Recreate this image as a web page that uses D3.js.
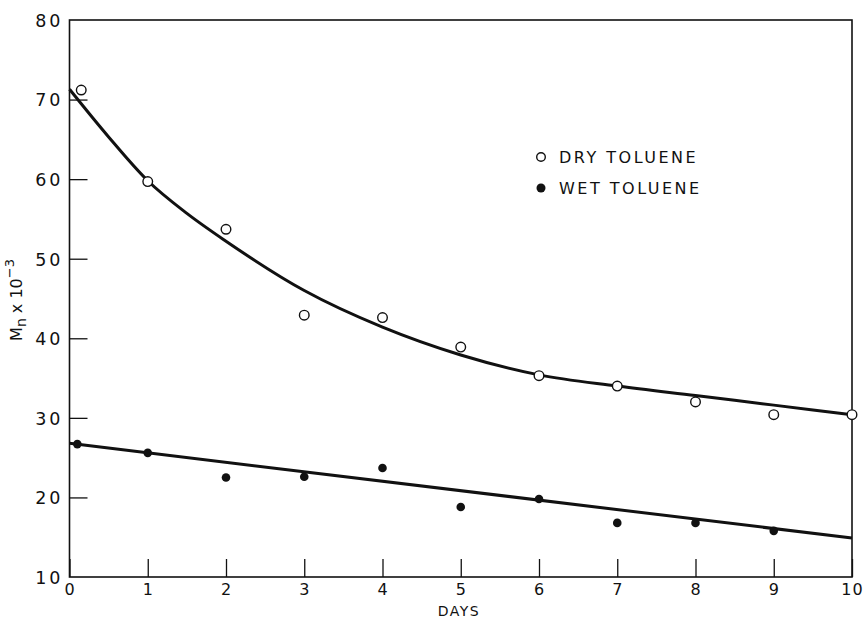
<!DOCTYPE html>
<html><head><meta charset="utf-8">
<script src="https://cdn.jsdelivr.net/npm/d3@7"></script>
<style>
body{margin:0;background:#fff;}
text{font-family:"DejaVu Sans",sans-serif;fill:#111;}
</style></head>
<body><svg id="c" width="866" height="620"></svg>
<script>
// data
const dryDays = [0.15, 1, 2, 3, 4, 5, 6, 7, 8, 9, 10];
const dryMn   = [71.2, 59.7, 53.7, 42.9, 42.6, 38.9, 35.3, 34.0, 32.0, 30.4, 30.4];
const wetDays = [0.1, 1, 2, 3, 4, 5, 6, 7, 8, 9];
const wetMn   = [26.7, 25.6, 22.5, 22.6, 23.7, 18.8, 19.8, 16.8, 16.8, 15.8];
// hand-drawn fit curves
const dryFitDays = [0, 0.5, 1, 1.5, 2, 3, 4, 5, 6, 7, 8, 9, 10];
const dryFitMn   = [71.3, 65.3, 59.8, 55.7, 52.2, 46.0, 41.4, 37.9, 35.4, 34.0, 32.8, 31.6, 30.4];
const wetFitDays = [0, 10];
const wetFitMn   = [26.8, 14.9];
const xTicks = [0,1,2,3,4,5,6,7,8,9,10];
const yTicks = [10,20,30,40,50,60,70,80];
const legendLabels = ["DRY TOLUENE", "WET TOLUENE"];

const svg = d3.select("#c");
const L = 69.5, R = 852, T = 20, B = 577;
const x = d3.scaleLinear().domain([0,10]).range([L,R]);
const y = d3.scaleLinear().domain([10,80]).range([B,T]);

// frame
svg.append("rect").attr("x",L).attr("y",T).attr("width",R-L).attr("height",B-T)
  .attr("fill","none").attr("stroke","#111").attr("stroke-width",1.6);

// axes with inward ticks
const xAxis = svg.append("g").attr("transform",`translate(0,${B})`)
  .call(d3.axisBottom(x).tickValues(xTicks).tickSize(-18).tickPadding(0).tickFormat(d3.format("d")));
xAxis.select(".domain").remove();
xAxis.selectAll("line").attr("stroke","#111").attr("stroke-width",1.3);
xAxis.selectAll("text").attr("y",18).attr("dy",0).style("font-size","16px").style("letter-spacing","1px");

const yAxis = svg.append("g").attr("transform",`translate(${L},0)`)
  .call(d3.axisLeft(y).tickValues(yTicks).tickSize(-18).tickPadding(0).tickFormat(d3.format("d")));
yAxis.select(".domain").remove();
yAxis.selectAll("line").attr("stroke","#111").attr("stroke-width",1.3)
  .filter(d=>d===10||d===80).remove();
yAxis.selectAll("text").attr("x",-6).attr("dy","0.36em").style("font-size","17.5px").style("letter-spacing","3px");

// axis titles
svg.append("text").attr("x",459).attr("y",616).attr("text-anchor","middle")
  .style("font-size","14px").style("letter-spacing","1.5px").text("DAYS");
const yt = svg.append("text").attr("transform","translate(22,300) rotate(-90)")
  .attr("text-anchor","middle").style("font-size","16px");
yt.append("tspan").text("M");
yt.append("tspan").attr("dy",4).style("font-size","14px").text("n");
yt.append("tspan").attr("dy",-4).text(" x 10");
yt.append("tspan").attr("dy",-8).style("font-size","13px").text("−3");

// fit curves
const line = d3.line().x(d=>x(d[0])).y(d=>y(d[1])).curve(d3.curveMonotoneX);
svg.append("path").datum(d3.zip(dryFitDays,dryFitMn)).attr("d",line)
  .attr("fill","none").attr("stroke","#111").attr("stroke-width",3);
svg.append("path").datum(d3.zip(wetFitDays,wetFitMn)).attr("d",line)
  .attr("fill","none").attr("stroke","#111").attr("stroke-width",3);

// points
svg.append("g").selectAll("circle").data(d3.zip(dryDays,dryMn)).join("circle")
  .attr("cx",d=>x(d[0])).attr("cy",d=>y(d[1])).attr("r",4.8)
  .attr("fill","#fff").attr("stroke","#111").attr("stroke-width",1.4);
svg.append("g").selectAll("circle").data(d3.zip(wetDays,wetMn)).join("circle")
  .attr("cx",d=>x(d[0])).attr("cy",d=>y(d[1])).attr("r",4.3)
  .attr("fill","#111");

// legend
const lg = svg.append("g");
lg.append("circle").attr("cx",541).attr("cy",157).attr("r",4.3).attr("fill","#fff").attr("stroke","#111").attr("stroke-width",1.4);
lg.append("circle").attr("cx",541).attr("cy",188).attr("r",4.5).attr("fill","#111");
lg.selectAll("text").data(legendLabels).join("text")
  .attr("x",559).attr("y",(d,i)=>157+i*31).attr("dy","0.36em")
  .style("font-size","16px").style("letter-spacing","2.5px").text(d=>d);
</script></body></html>
